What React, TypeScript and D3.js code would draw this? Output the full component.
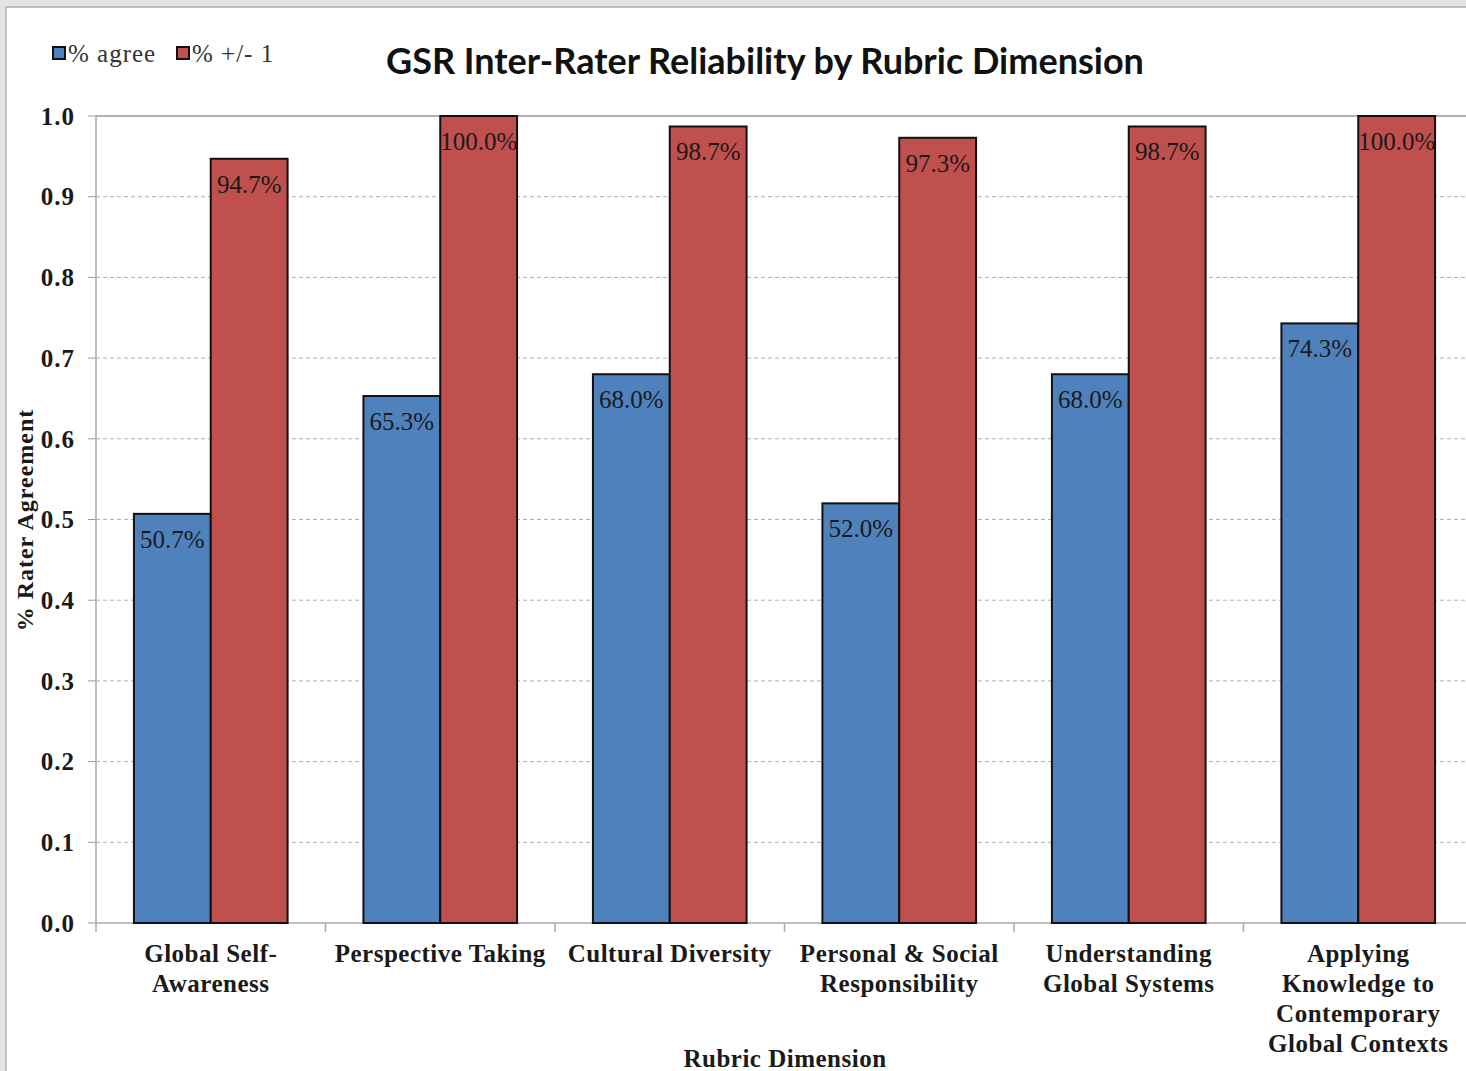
import React from "react";
import * as d3 from "d3";

const categories: string[][] = [
  ["Global Self-", "Awareness"],
  ["Perspective Taking"],
  ["Cultural Diversity"],
  ["Personal & Social", "Responsibility"],
  ["Understanding", "Global Systems"],
  ["Applying", "Knowledge to", "Contemporary", "Global Contexts"],
];
const agreeValues = [0.507, 0.653, 0.68, 0.52, 0.68, 0.743];
const plusMinusValues = [0.947, 1.0, 0.987, 0.973, 0.987, 1.0];
const seriesNames = ["% agree", "% +/- 1"];
const yTicks = [0, 0.1, 0.2, 0.3, 0.4, 0.5, 0.6, 0.7, 0.8, 0.9, 1.0];

const W = 1466;
const H = 1071;
const left = 96;
const right = 1473;
const top = 116;
const bottom = 923;
const colors = ["#4f81bd", "#c0504d"];
const serif = "'Liberation Serif', 'Times New Roman', serif";

export default function App() {
  const x = d3
    .scaleBand<number>()
    .domain(d3.range(categories.length))
    .range([left, right])
    .paddingInner(0)
    .paddingOuter(0);
  const bw = x.bandwidth();
  const inner = d3
    .scaleBand<number>()
    .domain([0, 1])
    .range([0, bw])
    .paddingInner(0)
    .paddingOuter(38 / 77);
  const y = d3.scaleLinear().domain([0, 1]).range([bottom, top]);
  const series = [agreeValues, plusMinusValues];

  return (
    <div style={{ position: "absolute", left: 0, top: 0 }}>
      <svg width={W} height={H} style={{ display: "block" }}>
        <rect x={0} y={0} width={W} height={H} fill="#e4e4e4" />
        <rect x={6} y={7} width={W} height={H} fill="#ffffff" stroke="#b0b0b0" strokeWidth={1.5} />
        {/* grid */}
        {yTicks.map((t) => (
          <g key={t}>
            {t > 0 && t < 1 && (
              <line x1={left} x2={right} y1={y(t)} y2={y(t)} stroke="#b0b0b0" strokeDasharray="4,3" strokeWidth={1} />
            )}
            <line x1={left - 8} x2={left} y1={y(t)} y2={y(t)} stroke="#999" strokeWidth={1} />
            <text
              x={75}
              y={y(t)}
              dy="0.35em"
              textAnchor="end"
              fontFamily={serif}
              fontWeight="bold"
              fontSize={25}
              letterSpacing={1}
              fill="#1a1a1a"
            >
              {t.toFixed(1)}
            </text>
          </g>
        ))}
        <line x1={left} x2={right} y1={top} y2={top} stroke="#999" strokeWidth={1.5} />
        <line x1={left} x2={left} y1={top} y2={bottom} stroke="#aaa" strokeWidth={1.5} />
        <line x1={left} x2={right} y1={bottom} y2={bottom} stroke="#aaa" strokeWidth={1.5} />
        {d3.range(categories.length + 1).map((i) => (
          <line
            key={i}
            x1={left + i * bw}
            x2={left + i * bw}
            y1={bottom}
            y2={bottom + 9}
            stroke="#aaa"
            strokeWidth={1.5}
          />
        ))}
        {/* bars */}
        {categories.map((_, i) => (
          <g key={i} transform={`translate(${x(i)},0)`}>
            {series.map((vals, s) => {
              const bx = inner(s)!;
              const by = y(vals[i]);
              return (
                <g key={s}>
                  <rect
                    x={bx}
                    y={by}
                    width={inner.bandwidth()}
                    height={bottom - by}
                    fill={colors[s]}
                    stroke="#111"
                    strokeWidth={2}
                  />
                  <text
                    x={bx + inner.bandwidth() / 2}
                    y={by + 34}
                    textAnchor="middle"
                    fontFamily={serif}
                    fontSize={25}
                    fill="#1a1a1a"
                  >
                    {(vals[i] * 100).toFixed(1) + "%"}
                  </text>
                </g>
              );
            })}
          </g>
        ))}
        {/* x labels */}
        {categories.map((lines, i) => (
          <text
            key={i}
            x={x(i)! + bw / 2}
            y={962}
            textAnchor="middle"
            fontFamily={serif}
            fontWeight="bold"
            fontSize={25}
            letterSpacing={0.5}
            fill="#1a1a1a"
          >
            {lines.map((l, k) => (
              <tspan key={k} x={x(i)! + bw / 2} dy={k === 0 ? 0 : 30}>
                {l}
              </tspan>
            ))}
          </text>
        ))}
        <text
          x={785}
          y={1067}
          textAnchor="middle"
          fontFamily={serif}
          fontWeight="bold"
          fontSize={25}
          letterSpacing={0.5}
          fill="#1a1a1a"
        >
          Rubric Dimension
        </text>
        <text
          transform={`translate(33,520) rotate(-90)`}
          textAnchor="middle"
          fontFamily={serif}
          fontWeight="bold"
          fontSize={24}
          letterSpacing={1}
          fill="#1a1a1a"
        >
          % Rater Agreement
        </text>
        {/* title */}
        <text
          x={765}
          y={74}
          textAnchor="middle"
          fontFamily="Lato, 'Open Sans', sans-serif"
          fontWeight="bold"
          fontSize={36}
          fill="#111"
        >
          GSR Inter-Rater Reliability by Rubric Dimension
        </text>
        {/* legend */}
        {seriesNames.map((n, s) => {
          const lx = s === 0 ? 53 : 177;
          return (
            <g key={s}>
              <rect x={lx} y={47} width={12} height={12} fill={colors[s]} stroke="#111" strokeWidth={2} />
              <text x={lx + 15} y={62} fontFamily={serif} fontSize={25} letterSpacing={1} fill="#333">
                {n}
              </text>
            </g>
          );
        })}
      </svg>
    </div>
  );
}
